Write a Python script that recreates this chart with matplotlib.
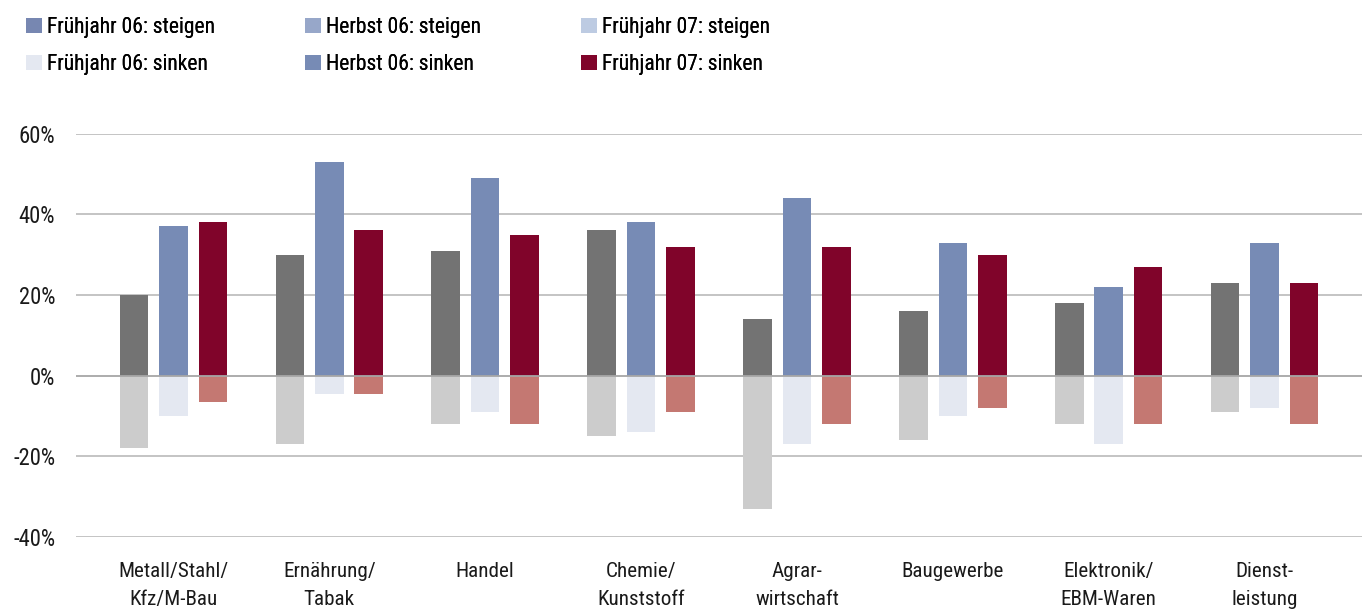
import matplotlib
matplotlib.use("Agg")
import matplotlib.pyplot as plt
from matplotlib.patches import Patch
import numpy as np

categories = ["Metall/Stahl/\nKfz/M-Bau", "Ernährung/\nTabak", "Handel", "Chemie/\nKunststoff",
              "Agrar-\nwirtschaft", "Baugewerbe", "Elektronik/\nEBM-Waren", "Dienst-\nleistung"]

f06_steigen = [20, 30, 31, 36, 14, 16, 18, 23]
f06_sinken = [-18, -17, -12, -15, -33, -16, -12, -9]
h06_steigen = [37, 53, 49, 38, 44, 33, 22, 33]
h06_sinken = [-10, -4.5, -9, -14, -17, -10, -17, -8]
f07_steigen = [38, 36, 35, 32, 32, 30, 27, 23]
f07_sinken = [-6.5, -4.5, -12, -9, -12, -8, -12, -12]

legend_labels = [["Frühjahr 06: steigen", "Frühjahr 06: sinken"],
                 ["Herbst 06: steigen", "Herbst 06: sinken"],
                 ["Frühjahr 07: steigen", "Frühjahr 07: sinken"]]
legend_colors = [["#7787B1", "#E4E8F1"], ["#97A7C9", "#778BB5"], ["#BDCBE2", "#80042A"]]

yticks = [-40, -20, 0, 20, 40, 60]

FONT = ["Roboto Condensed", "Liberation Sans Narrow", "Open Sans", "DejaVu Sans"]
plt.rcParams["font.family"] = FONT
FS_LEG = 15.5
FS_X = 15.2
FS_Y = 16.3

fig = plt.figure(figsize=(13.69, 6.10), dpi=100)
ax = fig.add_axes([76 / 1369, 73 / 610, 1286 / 1369, (537 - 133.7) / 610])

x = np.arange(len(categories))
off = 0.253
w = 0.183
series = [
    (f06_steigen, f06_sinken, "#737373", "#CCCCCC", -off),
    (h06_steigen, h06_sinken, "#778BB5", "#E4E8F1", 0.0),
    (f07_steigen, f07_sinken, "#80042A", "#C47872", off),
]
for up, down, cu, cd, o in series:
    ax.bar(x + o, up, width=w, color=cu, zorder=2, linewidth=0)
    ax.bar(x + o, down, width=w, color=cd, zorder=2, linewidth=0)

for t in yticks:
    if t == 0:
        ax.axhline(t, color="#A6A6A6", lw=1.3, zorder=3)
    else:
        ax.axhline(t, color="#BFBFBF", lw=1.3, zorder=1)

ax.set_xlim(-0.625, 7.625)
ax.set_ylim(-40, 60)
ax.set_yticks(yticks)
ax.set_yticklabels([f"{t}%" for t in yticks], fontsize=FS_Y, color="#1a1a1a")
ax.set_xticks(x)
ax.set_xticklabels(categories, fontsize=FS_X, color="#1a1a1a", linespacing=1.62)
ax.tick_params(axis="y", length=0, pad=15)
ax.tick_params(axis="x", length=0, pad=18)
for s in ax.spines.values():
    s.set_visible(False)

col_x = [26, 305, 581]
for cx, labs, cols in zip(col_x, legend_labels, legend_colors):
    handles = [Patch(facecolor=c, edgecolor="none") for c in cols]
    leg = fig.legend(handles, labs, ncol=1, loc="upper left",
                     bbox_to_anchor=(cx / 1369, 1 - 17 / 610), frameon=False,
                     fontsize=FS_LEG, handlelength=0.74, handleheight=0.65, handletextpad=0.25,
                     labelspacing=0.75, borderaxespad=0, borderpad=0)
    fig.add_artist(leg)

fig.savefig("out.png", dpi=100, facecolor="white")
